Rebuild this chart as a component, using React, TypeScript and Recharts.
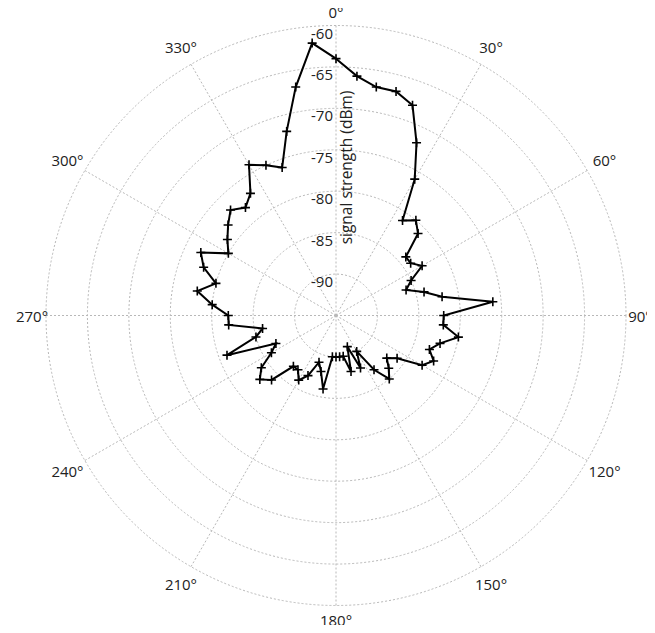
import React from "react";
import {
  RadarChart,
  Radar,
  PolarGrid,
  PolarAngleAxis,
  PolarRadiusAxis,
} from "recharts";

// bearing in degrees, clockwise from north
const angles = [
  0, 5, 10, 15, 20, 25, 30, 35, 40, 45, 50, 55, 60, 65, 70, 75, 80, 85,
  90, 95, 100, 105, 110, 115, 120, 125, 130, 135, 140, 145, 150, 155, 160, 165, 170, 175,
  180, 185, 190, 195, 200, 205, 210, 215, 220, 225, 230, 235, 240, 245, 250, 255, 260, 265,
  270, 275, 280, 285, 290, 295, 300, 305, 310, 315, 320, 325, 330, 335, 340, 345, 350, 355,
];

// signal strength in dBm
const strength = [
  -64, -66, -67, -67, -68, -72, -76, -81,
  -80, -81, -84, -84, -83, -85, -86, -84,
  -82, -76, -82, -82, -80, -82, -83, -82,
  -83, -86, -87, -86, -85, -87, -90, -88,
  -91, -88, -90, -90, -90, -90, -86, -88,
  -89, -87, -86, -87, -87, -84, -83, -84,
  -86, -87, -81, -85, -86, -82, -82, -80,
  -78, -80, -78, -77, -80, -79, -78, -77,
  -78, -77, -74, -75, -76, -72, -67, -62,
];

const angleTicks = [0, 30, 60, 90, 120, 150, 180, 210, 240, 270, 300, 330];
const radiusTicks = [-90, -85, -80, -75, -70, -65, -60];

const data = angles.map((a, i) => ({ angle: a, value: strength[i] }));

const font = "'Open Sans', 'DejaVu Sans', sans-serif";

const AngleTick = (props: any) => {
  const { x, y, payload } = props;
  const v = payload.value;
  const rad = (v * Math.PI) / 180;
  const extra = 7 * Math.abs(Math.sin(2 * rad));
  return (
    <text
      x={x + Math.sin(rad) * extra}
      y={y - Math.cos(rad) * extra}
      textAnchor="middle"
      dominantBaseline="central"
      fontFamily={font}
      fontSize={15}
      fill="#222"
    >
      {v + "°"}
    </text>
  );
};

const RadiusTick = (props: any) => {
  const { x, y, payload } = props;
  return (
    <text
      x={x - 3}
      y={y + 7}
      textAnchor="end"
      dominantBaseline="central"
      fontFamily={font}
      fontSize={15}
      fill="#222"
    >
      {payload.value}
    </text>
  );
};

const PlusDot = (props: any) => {
  const { cx, cy } = props;
  if (cx == null || cy == null) return null;
  return (
    <path
      d={`M${cx - 4.5},${cy}H${cx + 4.5}M${cx},${cy - 4.5}V${cy + 4.5}`}
      stroke="#000"
      strokeWidth={1.6}
      fill="none"
    />
  );
};

const CX = 336;
const CY = 315.5;

export default function App() {
  return (
    <div style={{ margin: "-8px", width: 655, height: 633 }}>
      <RadarChart
        width={655}
        height={633}
        data={data}
        cx={CX}
        cy={CY}
        innerRadius={0}
        outerRadius={290}
        startAngle={90}
        endAngle={-270}
      >
        <PolarGrid
          gridType="circle"
          stroke="#b8b8b8"
          strokeDasharray="2 2"
        />
        <PolarAngleAxis
          dataKey="angle"
          type="number"
          domain={[0, 360]}
          ticks={angleTicks}
          tickSize={14}
          tickLine={false}
          axisLine={false}
          tick={AngleTick}
        />
        <PolarRadiusAxis
          angle={90}
          type="number"
          domain={[-95, -60]}
          ticks={radiusTicks}
          axisLine={false}
          tick={RadiusTick}
        />
        <Radar
          dataKey="value"
          stroke="#000"
          strokeWidth={2}
          fill="none"
          fillOpacity={0}
          dot={PlusDot}
          isAnimationActive={false}
        />
        <text
          x={CX + 10}
          y={CY - 148}
          transform={`rotate(-90, ${CX + 10}, ${CY - 148})`}
          textAnchor="middle"
          dominantBaseline="central"
          fontFamily={font}
          fontSize={15.5}
          fill="#222"
        >
          signal strength (dBm)
        </text>
      </RadarChart>
    </div>
  );
}
